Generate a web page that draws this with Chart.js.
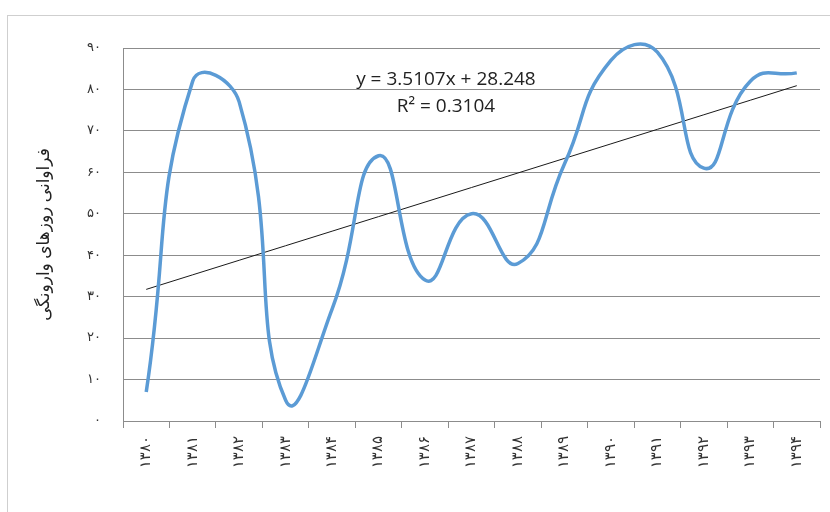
<!DOCTYPE html>
<html>
<head>
<meta charset="utf-8">
<script src="https://cdn.jsdelivr.net/npm/chart.js@4"></script>
<style>
  html, body { margin: 0; padding: 0; background: #fff; }
  #wrap { width: 830px; height: 512px; position: relative; }
</style>
</head>
<body>
<div id="wrap"><canvas id="chart" width="830" height="512"></canvas></div>
<script>
// years (solar hijri), shown with Persian digits
const years = ['۱۳۸۰', '۱۳۸۱', '۱۳۸۲', '۱۳۸۳', '۱۳۸۴', '۱۳۸۵', '۱۳۸۶', '۱۳۸۷', '۱۳۸۸', '۱۳۸۹', '۱۳۹۰', '۱۳۹۱', '۱۳۹۲', '۱۳۹۳', '۱۳۹۴'];
// inversion days frequency
const inversionDays = [7, 82, 77, 5, 27, 64, 34, 50, 38, 62, 87, 89, 61, 82, 84];
// y tick labels
const yTickLabels = ['۰', '۱۰', '۲۰', '۳۰', '۴۰', '۵۰', '۶۰', '۷۰', '۸۰', '۹۰'];
// linear trend shown on the chart
const trendSlope = 3.5107;
const trendIntercept = 28.248;
const trendText = ['y = 3.5107x + 28.248', 'R² = 0.3104'];
const yTitle = 'فراوانی روزهای وارونگی';

const trendValues = years.map((_, i) => trendIntercept + trendSlope * (i + 1));

const gridColor = '#8c8c8c';

// outer frame + equation text
const decorPlugin = {
  id: 'decor',
  beforeDraw(chart) {
    const ctx = chart.ctx;
    ctx.save();
    ctx.fillStyle = '#fff';
    ctx.fillRect(0, 0, chart.width, chart.height);
    ctx.strokeStyle = '#cfcfcf';
    ctx.lineWidth = 1;
    ctx.strokeRect(7.5, 15.5, 900, 600);
    ctx.restore();
  },
  afterDatasetsDraw(chart) {
    const ctx = chart.ctx;
    const x = chart.scales.x.getPixelForValue(6.45);
    ctx.save();
    ctx.fillStyle = '#222';
    ctx.font = '19px "Open Sans", "Liberation Sans", sans-serif';
    ctx.textAlign = 'center';
    ctx.textBaseline = 'middle';
    ctx.fillText(trendText[0], x, chart.scales.y.getPixelForValue(82.3));
    ctx.fillText(trendText[1], x, chart.scales.y.getPixelForValue(75.9));
    ctx.restore();
  }
};

const ctx = document.getElementById('chart').getContext('2d');
new Chart(ctx, {
  type: 'line',
  data: {
    labels: years,
    datasets: [
      {
        label: 'inversion',
        data: inversionDays,
        borderColor: '#5b9bd5',
        borderWidth: 3.5,
        pointRadius: 0,
        tension: 0.5,
        clip: false,
        fill: false
      },
      {
        label: 'trend',
        data: trendValues,
        borderColor: '#1a1a1a',
        borderWidth: 1,
        pointRadius: 0,
        tension: 0,
        fill: false
      }
    ]
  },
  plugins: [decorPlugin],
  options: {
    responsive: false,
    animation: false,
    elements: { line: { capBezierPoints: false } },
    layout: { padding: { left: 0, top: 48, right: 10, bottom: 0 } },
    plugins: {
      legend: { display: false },
      tooltip: { enabled: false }
    },
    scales: {
      x: {
        offset: true,
        grid: {
          offset: true,
          drawOnChartArea: false,
          color: gridColor,
          tickLength: 7
        },
        border: { color: gridColor, width: 1 },
        ticks: {
          autoSkip: false,
          minRotation: 90,
          maxRotation: 90,
          color: '#333',
          padding: 8,
          font: { size: 15, family: '"DejaVu Sans", sans-serif' }
        },
        afterFit(scale) { scale.height = 91; }
      },
      y: {
        min: 0,
        max: 90,
        grid: {
          color: gridColor,
          lineWidth: 1,
          drawTicks: false
        },
        border: { color: gridColor, width: 1 },
        ticks: {
          stepSize: 10,
          padding: 22,
          color: '#333',
          font: { size: 13, family: '"DejaVu Sans", sans-serif' },
          callback: (value) => yTickLabels[Math.round(value / 10)]
        },
        title: {
          display: true,
          text: yTitle,
          color: '#222',
          padding: { top: 34, bottom: 0 },
          font: { size: 17, family: '"Noto Sans", "DejaVu Sans", sans-serif' }
        },
        afterFit(scale) { scale.width = 123; }
      }
    }
  }
});
</script>
</body>
</html>
